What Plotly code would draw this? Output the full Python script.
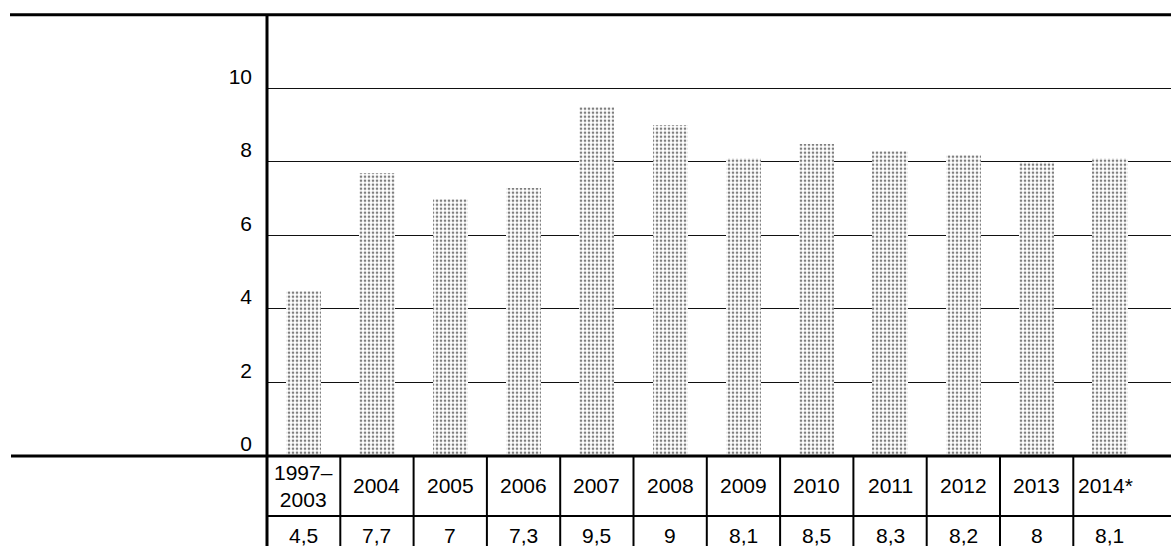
import plotly.graph_objects as go

# ---- data ----
categories = ["1997–<br>2003", "2004", "2005", "2006", "2007", "2008",
              "2009", "2010", "2011", "2012", "2013", "2014*"]
values = [4.5, 7.7, 7.0, 7.3, 9.5, 9.0, 8.1, 8.5, 8.3, 8.2, 8.0, 8.1]
ytick_vals = [0, 2, 4, 6, 8, 10]
ytick_text = ["0", "2", "4", "6", "8", "10"]


def fmt(v):
    return str(int(v)) if float(v).is_integer() else str(v).replace(".", ",")


W, H = 1171, 546
FONT = "Liberation Sans, Arial, sans-serif"
x_idx = list(range(len(categories)))

ax_left_px = 267
col_px = 73.3
zero_px = 456
top_px = 14.7
row_px = 516

x_left = ax_left_px / W
y_bottom = 1 - zero_px / H
y_top = 1 - top_px / H
x_max = (W - ax_left_px) / col_px - 0.5

fig = go.Figure()
fig.add_trace(go.Bar(
    x=x_idx, y=values, width=0.48,
    marker=dict(color="white", line=dict(width=0),
                pattern=dict(shape=".", fgcolor="#000000", bgcolor="white",
                             size=4, solidity=0.35)),
    hoverinfo="skip", showlegend=False,
))

shapes = []
# top frame line and zero line (extend into left margin)
shapes.append(dict(type="line", xref="paper", yref="paper", x0=10 / W, x1=1,
                   y0=y_top, y1=y_top, line=dict(color="black", width=3)))
shapes.append(dict(type="line", xref="paper", yref="paper", x0=11 / W, x1=1,
                   y0=y_bottom, y1=y_bottom, line=dict(color="black", width=3)))
# vertical axis line through the table
shapes.append(dict(type="line", xref="paper", yref="paper", x0=x_left, x1=x_left,
                   y0=0, y1=y_top, line=dict(color="black", width=3)))
# table column separators
for k in x_idx[:-1]:
    shapes.append(dict(type="line", xref="x", yref="paper", x0=k + 0.5, x1=k + 0.5,
                       y0=0, y1=y_bottom, line=dict(color="black", width=2)))
# row separator
row_y = 1 - row_px / H
shapes.append(dict(type="line", xref="paper", yref="paper", x0=x_left, x1=1,
                   y0=row_y, y1=row_y, line=dict(color="black", width=2)))

annotations = []
head_y = 1 - 486 / H
val_y = 1 - 535 / H
for i, (c, v) in enumerate(zip(categories, values)):
    if c.endswith("*"):
        annotations.append(dict(x=i - 0.5, y=head_y, xref="x", yref="paper", text=c,
                                showarrow=False, xanchor="left", yanchor="middle",
                                xshift=3, font=dict(family=FONT, size=21, color="black")))
    else:
        annotations.append(dict(x=i, y=head_y, xref="x", yref="paper", text=c,
                                showarrow=False, xanchor="center", yanchor="middle",
                                font=dict(family=FONT, size=21, color="black")))
    annotations.append(dict(x=i, y=val_y, xref="x", yref="paper", text=fmt(v),
                            showarrow=False, xanchor="center", yanchor="middle",
                            font=dict(family=FONT, size=21, color="black")))

fig.update_layout(
    width=W, height=H,
    margin=dict(l=0, r=0, t=0, b=0),
    paper_bgcolor="white", plot_bgcolor="white",
    bargap=0,
    xaxis=dict(domain=[x_left, 1], range=[-0.5, x_max], showticklabels=False,
               showgrid=False, zeroline=False, showline=False, fixedrange=True),
    yaxis=dict(domain=[y_bottom, y_top], range=[0, 12], tickvals=ytick_vals,
               ticktext=ytick_text, showgrid=True, gridcolor="#111111", gridwidth=1.2,
               zeroline=False, showline=False, ticks="",
               ticklabelstandoff=14, ticklabelshift=-12,
               tickfont=dict(family=FONT, size=21, color="black"), fixedrange=True),
    shapes=shapes,
    annotations=annotations,
    font=dict(family=FONT),
)

fig.write_html("out.html", config={"displayModeBar": False},
               post_script="document.body.style.margin='0';document.body.style.overflow='hidden';")
